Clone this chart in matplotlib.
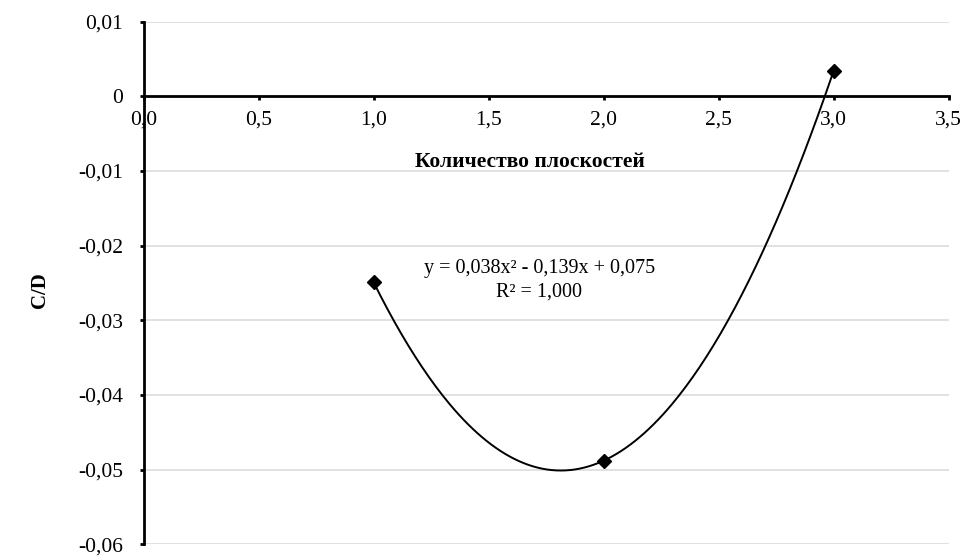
import numpy as np
import matplotlib.pyplot as plt
from matplotlib.ticker import FuncFormatter

plt.rcParams['font.family'] = ['Liberation Serif', 'DejaVu Serif']

# data
planes = [1.0, 2.0, 3.0]
cd = [-0.0249, -0.0488, 0.0034]
eq_text = "y = 0,038x² - 0,139x + 0,075\nR² = 1,000"

fig = plt.figure(figsize=(9.64, 5.56), dpi=100)
ax = fig.add_axes([0.149, 0.021, 0.835, 0.940])

# quadratic trendline through the points
coef = np.polyfit(planes, cd, 2)
xs = np.linspace(planes[0], planes[-1], 200)
ax.plot(xs, np.polyval(coef, xs), color='black', lw=1.4, zorder=3)
ax.plot(planes, cd, 'D', color='black', ms=7.5, zorder=4)

ax.set_xlim(0, 3.5)
ax.set_ylim(-0.06, 0.01)
ax.set_xticks(np.arange(0, 3.51, 0.5))
ax.set_yticks(np.arange(-0.06, 0.0101, 0.01))
ax.xaxis.set_major_formatter(FuncFormatter(lambda v, p: f"{v:.1f}".replace('.', ',')))
ax.yaxis.set_major_formatter(FuncFormatter(
    lambda v, p: "0" if abs(v) < 1e-9 else f"{v:.2f}".replace('.', ',')))

ax.grid(axis='y', color='#dcdcdc', lw=1.2)
ax.set_axisbelow(True)
ax.spines['top'].set_visible(False)
ax.spines['right'].set_visible(False)
ax.spines['bottom'].set_position(('data', 0))
ax.spines['bottom'].set_linewidth(2)
ax.spines['left'].set_linewidth(2)
ax.tick_params(axis='x', direction='out', length=3, width=2, labelsize=15.5, pad=7)
ax.tick_params(axis='y', direction='out', length=3, width=2, labelsize=15.5, pad=12)

ax.text(1.72, -0.0246, eq_text, ha='center', va='center', fontsize=14.5, linespacing=1.3)
ax.text(1.68, -0.0088, "Количество плоскостей", ha='center', va='center',
        fontsize=15.5, fontweight='bold')
fig.text(0.042, 0.478, "C/D", rotation=90, ha='center', va='center',
         fontsize=15, fontweight='bold')

fig.savefig('out.png', dpi=100)
